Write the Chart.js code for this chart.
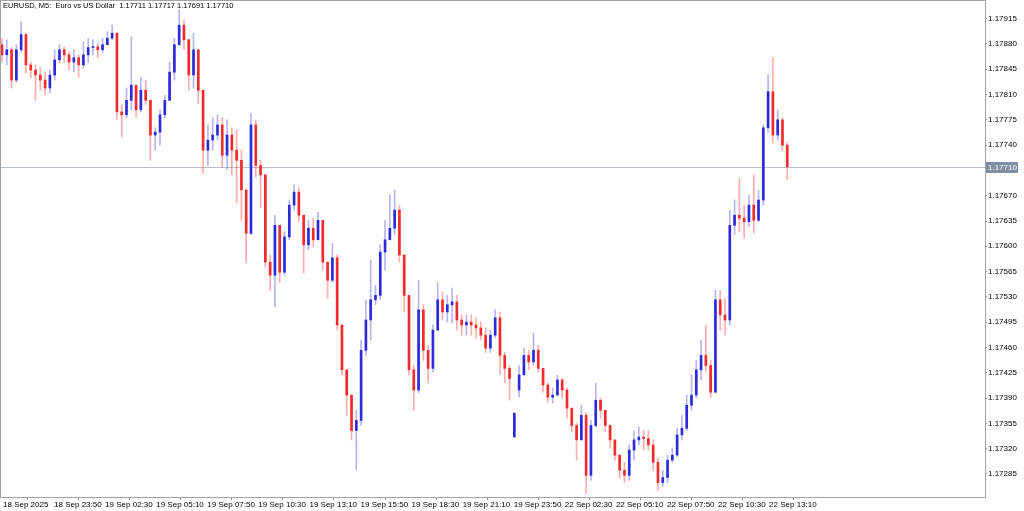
<!DOCTYPE html>
<html>
<head>
<meta charset="utf-8">
<script src="https://cdn.jsdelivr.net/npm/chart.js@4.4.1/dist/chart.umd.min.js"></script>
<style>
  html, body { margin: 0; padding: 0; background: #fff; }
  #chart { display: block; }
</style>
</head>
<body>
<canvas id="chart" width="1024" height="511"></canvas>
<script>
// Header / last bar
const symbolTitle = 'EURUSD, M5:  Euro vs US Dollar';
const lastBar = ['1.17711', '1.17717', '1.17691', '1.17710'];
const bidPrice = 1.17710;

// each candle here groups 3 M5 bars, a time label every 32 M5 bars
const barsPerCandle = 3;
const barsPerLabel = 32;

const timeLabels = [
    '18 Sep 2025', '18 Sep 23:50', '19 Sep 02:30', '19 Sep 05:10', '19 Sep 07:50', '19 Sep 10:30',
    '19 Sep 13:10', '19 Sep 15:50', '19 Sep 18:30', '19 Sep 21:10', '19 Sep 23:50', '22 Sep 02:30',
    '22 Sep 05:10', '22 Sep 07:50', '22 Sep 10:30', '22 Sep 13:10'
];

const priceTicks = [
    1.17915, 1.17880, 1.17845, 1.17810, 1.17775, 1.17740, 1.17705, 1.17670, 1.17635, 1.17600,
    1.17565, 1.17530, 1.17495, 1.17460, 1.17425, 1.17390, 1.17355, 1.17320, 1.17285
];

const opens = [
    1.17879, 1.17865, 1.17872, 1.17830, 1.17872, 1.17893, 1.17851, 1.17844, 1.17837, 1.17830,
    1.17819, 1.17837, 1.17858, 1.17872, 1.17865, 1.17855, 1.17861, 1.17851, 1.17865, 1.17875,
    1.17876, 1.17872, 1.17879, 1.17888, 1.17895, 1.17786, 1.17782, 1.17802, 1.17823, 1.17789,
    1.17816, 1.17802, 1.17754, 1.17758, 1.17782, 1.17802, 1.17841, 1.17879, 1.17906, 1.17886,
    1.17837, 1.17872, 1.17816, 1.17733, 1.17747, 1.17754, 1.17768, 1.17726, 1.17754, 1.17733,
    1.17719, 1.17678, 1.17618, 1.17768, 1.17712, 1.17699, 1.17578, 1.17560, 1.17629, 1.17564,
    1.17613, 1.17657, 1.17675, 1.17643, 1.17602, 1.17625, 1.17609, 1.17636, 1.17578, 1.17553,
    1.17584, 1.17491, 1.17429, 1.17394, 1.17345, 1.17359, 1.17456, 1.17498, 1.17526, 1.17532,
    1.17592, 1.17609, 1.17625, 1.17650, 1.17588, 1.17532, 1.17429, 1.17401, 1.17512, 1.17456,
    1.17431, 1.17484, 1.17526, 1.17509, 1.17519, 1.17523, 1.17498, 1.17491, 1.17495, 1.17491,
    1.17487, 1.17477, 1.17459, 1.17477, 1.17501, 1.17449, 1.17431, 1.17336, 1.17401, 1.17422,
    1.17449, 1.17440, 1.17456, 1.17431, 1.17408, 1.17391, 1.17394, 1.17415, 1.17401, 1.17376,
    1.17352, 1.17332, 1.17366, 1.17283, 1.17352, 1.17387, 1.17373, 1.17352, 1.17332, 1.17311,
    1.17290, 1.17283, 1.17318, 1.17332, 1.17336, 1.17334, 1.17325, 1.17301, 1.17273, 1.17280,
    1.17304, 1.17311, 1.17339, 1.17348, 1.17380, 1.17394, 1.17429, 1.17449, 1.17435, 1.17398,
    1.17526, 1.17505, 1.17498, 1.17629, 1.17643, 1.17639, 1.17634, 1.17657, 1.17636, 1.17664,
    1.17764, 1.17814, 1.17754, 1.17775, 1.17740
];

const highs = [
    1.17888, 1.17886, 1.17875, 1.17879, 1.17911, 1.17895, 1.17855, 1.17851, 1.17848, 1.17841,
    1.17844, 1.17872, 1.17879, 1.17876, 1.17869, 1.17872, 1.17865, 1.17883, 1.17888, 1.17886,
    1.17881, 1.17888, 1.17897, 1.17906, 1.17895, 1.17796, 1.17819, 1.17890, 1.17823, 1.17834,
    1.17830, 1.17802, 1.17764, 1.17789, 1.17809, 1.17855, 1.17888, 1.17927, 1.17913, 1.17886,
    1.17895, 1.17872, 1.17816, 1.17768, 1.17778, 1.17782, 1.17778, 1.17775, 1.17764, 1.17761,
    1.17733, 1.17678, 1.17784, 1.17775, 1.17719, 1.17699, 1.17588, 1.17643, 1.17629, 1.17620,
    1.17664, 1.17685, 1.17681, 1.17643, 1.17636, 1.17639, 1.17647, 1.17636, 1.17578, 1.17604,
    1.17588, 1.17491, 1.17429, 1.17394, 1.17373, 1.17470, 1.17526, 1.17581, 1.17546, 1.17602,
    1.17636, 1.17671, 1.17678, 1.17657, 1.17588, 1.17532, 1.17435, 1.17553, 1.17519, 1.17463,
    1.17491, 1.17550, 1.17537, 1.17532, 1.17542, 1.17532, 1.17505, 1.17505, 1.17505, 1.17501,
    1.17495, 1.17487, 1.17484, 1.17512, 1.17509, 1.17453, 1.17435, 1.17369, 1.17435, 1.17459,
    1.17456, 1.17480, 1.17463, 1.17431, 1.17411, 1.17404, 1.17422, 1.17417, 1.17404, 1.17376,
    1.17355, 1.17380, 1.17370, 1.17359, 1.17411, 1.17390, 1.17373, 1.17352, 1.17332, 1.17311,
    1.17301, 1.17325, 1.17345, 1.17350, 1.17345, 1.17345, 1.17332, 1.17307, 1.17290, 1.17311,
    1.17321, 1.17348, 1.17366, 1.17394, 1.17422, 1.17442, 1.17470, 1.17491, 1.17442, 1.17539,
    1.17539, 1.17528, 1.17650, 1.17664, 1.17694, 1.17657, 1.17671, 1.17699, 1.17678, 1.17768,
    1.17837, 1.17861, 1.17789, 1.17778, 1.17744
];

const lows = [
    1.17855, 1.17851, 1.17819, 1.17827, 1.17869, 1.17840, 1.17833, 1.17802, 1.17816, 1.17809,
    1.17812, 1.17830, 1.17854, 1.17854, 1.17844, 1.17841, 1.17834, 1.17847, 1.17854, 1.17865,
    1.17861, 1.17868, 1.17879, 1.17886, 1.17775, 1.17751, 1.17778, 1.17789, 1.17779, 1.17786,
    1.17796, 1.17719, 1.17733, 1.17740, 1.17778, 1.17802, 1.17830, 1.17879, 1.17872, 1.17816,
    1.17819, 1.17798, 1.17701, 1.17712, 1.17733, 1.17747, 1.17710, 1.17706, 1.17699, 1.17660,
    1.17636, 1.17577, 1.17616, 1.17696, 1.17654, 1.17571, 1.17539, 1.17516, 1.17550, 1.17560,
    1.17609, 1.17650, 1.17634, 1.17563, 1.17595, 1.17599, 1.17609, 1.17567, 1.17528, 1.17550,
    1.17484, 1.17422, 1.17366, 1.17332, 1.17290, 1.17352, 1.17449, 1.17470, 1.17519, 1.17526,
    1.17567, 1.17609, 1.17616, 1.17578, 1.17509, 1.17422, 1.17373, 1.17397, 1.17442, 1.17411,
    1.17426, 1.17484, 1.17498, 1.17495, 1.17494, 1.17484, 1.17477, 1.17477, 1.17477, 1.17473,
    1.17470, 1.17453, 1.17453, 1.17473, 1.17422, 1.17411, 1.17387, 1.17336, 1.17391, 1.17422,
    1.17429, 1.17435, 1.17426, 1.17398, 1.17384, 1.17383, 1.17394, 1.17390, 1.17362, 1.17343,
    1.17304, 1.17332, 1.17258, 1.17276, 1.17350, 1.17362, 1.17343, 1.17321, 1.17304, 1.17279,
    1.17273, 1.17276, 1.17304, 1.17325, 1.17318, 1.17318, 1.17290, 1.17262, 1.17268, 1.17273,
    1.17301, 1.17309, 1.17332, 1.17345, 1.17373, 1.17390, 1.17415, 1.17426, 1.17391, 1.17398,
    1.17484, 1.17477, 1.17491, 1.17616, 1.17620, 1.17611, 1.17627, 1.17618, 1.17634, 1.17657,
    1.17758, 1.17743, 1.17747, 1.17733, 1.17692
];

const closes = [
    1.17865, 1.17872, 1.17830, 1.17872, 1.17893, 1.17851, 1.17844, 1.17837, 1.17830, 1.17819,
    1.17837, 1.17858, 1.17872, 1.17865, 1.17855, 1.17861, 1.17851, 1.17865, 1.17875, 1.17876,
    1.17872, 1.17879, 1.17888, 1.17895, 1.17786, 1.17782, 1.17802, 1.17823, 1.17789, 1.17816,
    1.17802, 1.17754, 1.17758, 1.17782, 1.17802, 1.17841, 1.17879, 1.17906, 1.17886, 1.17837,
    1.17872, 1.17816, 1.17733, 1.17747, 1.17754, 1.17768, 1.17726, 1.17754, 1.17733, 1.17719,
    1.17678, 1.17618, 1.17768, 1.17712, 1.17699, 1.17578, 1.17560, 1.17629, 1.17564, 1.17613,
    1.17657, 1.17675, 1.17643, 1.17602, 1.17625, 1.17609, 1.17636, 1.17578, 1.17553, 1.17584,
    1.17491, 1.17429, 1.17394, 1.17345, 1.17359, 1.17456, 1.17498, 1.17526, 1.17532, 1.17592,
    1.17609, 1.17625, 1.17650, 1.17588, 1.17532, 1.17429, 1.17401, 1.17512, 1.17456, 1.17431,
    1.17484, 1.17526, 1.17509, 1.17519, 1.17523, 1.17498, 1.17491, 1.17495, 1.17491, 1.17487,
    1.17477, 1.17459, 1.17477, 1.17501, 1.17449, 1.17431, 1.17417, 1.17369, 1.17422, 1.17449,
    1.17440, 1.17456, 1.17431, 1.17408, 1.17391, 1.17394, 1.17415, 1.17401, 1.17376, 1.17352,
    1.17332, 1.17366, 1.17283, 1.17352, 1.17387, 1.17373, 1.17352, 1.17332, 1.17311, 1.17290,
    1.17283, 1.17318, 1.17332, 1.17336, 1.17334, 1.17325, 1.17301, 1.17273, 1.17280, 1.17304,
    1.17311, 1.17339, 1.17348, 1.17380, 1.17394, 1.17429, 1.17449, 1.17435, 1.17398, 1.17526,
    1.17505, 1.17498, 1.17629, 1.17643, 1.17639, 1.17634, 1.17657, 1.17636, 1.17664, 1.17764,
    1.17814, 1.17754, 1.17775, 1.17740, 1.17710
];

// Cores (alta azul, baixa vermelho)
const COLORS = {
    up: '#2a2ad8', down: '#f22a2a',
    wickUp: 'rgba(60, 60, 220, 0.38)', wickDown: 'rgba(255, 40, 40, 0.38)',
    frame: '#a4a4a4', priceLine: '#b8c0ca', priceBox: '#7e8ea4'
};
const FONT = { family: '"Liberation Sans", Arial, sans-serif', size: 8 };

const isUp = closes.map((c, i) => c >= opens[i]);

const wickData = highs.map((h, i) => ({ x: i * barsPerCandle, y: [lows[i], h] }));
const bodyData = closes.map((c, i) => ({ x: i * barsPerCandle, y: [opens[i], c] }));

// linha do preço atual + moldura + título
const mtOverlay = {
    id: 'mtOverlay',
    beforeDatasetsDraw(chart) {
        const { ctx, chartArea: a, scales } = chart;
        const y = Math.round(scales.y.getPixelForValue(bidPrice)) + 0.5;
        ctx.save();
        ctx.strokeStyle = COLORS.priceLine;
        ctx.lineWidth = 1;
        ctx.beginPath();
        ctx.moveTo(a.left, y);
        ctx.lineTo(a.right, y);
        ctx.stroke();
        ctx.restore();
    },
    afterDraw(chart) {
        const { ctx, chartArea: a, scales } = chart;
        const y = Math.round(scales.y.getPixelForValue(bidPrice));
        ctx.save();
        ctx.strokeStyle = COLORS.frame;
        ctx.lineWidth = 1;
        ctx.strokeRect(a.left - 0.5, a.top - 0.5, a.right - a.left + 1, a.bottom - a.top + 1);

        ctx.fillStyle = COLORS.priceBox;
        ctx.fillRect(a.right + 1, y - 5, 32, 11);
        ctx.font = `${FONT.size}px ${FONT.family}`;
        ctx.textBaseline = 'middle';
        ctx.fillStyle = '#ffffff';
        ctx.fillText(bidPrice.toFixed(5), a.right + 3, y + 0.5);

        ctx.font = `7.5px ${FONT.family}`;
        ctx.fillStyle = '#000000';
        ctx.fillText(symbolTitle + '  ' + lastBar.join(' '), 3, 5.5);
        ctx.restore();
    }
};

// tira o espaço extra que o Chart.js reserva para o primeiro/último rótulo
function fixBox(size) {
    return s => {
        if (s.isHorizontal()) s.height = size; else s.width = size;
        s.paddingTop = 0;
        s.paddingBottom = 0;
        s.paddingLeft = 0;
        s.paddingRight = 0;
    };
}

new Chart(document.getElementById('chart'), {
    type: 'bar',
    data: {
        datasets: [
            {
                data: wickData,
                backgroundColor: isUp.map(u => u ? COLORS.wickUp : COLORS.wickDown),
                barThickness: 1,
                grouped: false,
                order: 2
            },
            {
                data: bodyData,
                backgroundColor: isUp.map(u => u ? COLORS.up : COLORS.down),
                barThickness: 2,
                minBarLength: 1,
                grouped: false,
                order: 1
            }
        ]
    },
    options: {
        responsive: false,
        animation: false,
        devicePixelRatio: 1,
        layout: { padding: { left: 1, top: 1, right: 0, bottom: 0 } },
        plugins: { legend: { display: false }, tooltip: { enabled: false } },
        scales: {
            x: {
                type: 'linear',
                offset: false,
                min: -0.63,
                max: 615.9,
                afterFit: fixBox(14),
                afterBuildTicks: s => { s.ticks = timeLabels.map((_, k) => ({ value: k * barsPerLabel })); },
                border: { display: false },
                grid: { drawOnChartArea: false, drawTicks: true, tickLength: 3, color: '#8c8c8c' },
                ticks: {
                    autoSkip: false, maxRotation: 0, align: 'start', padding: 0, labelOffset: 1,
                    color: '#000', font: FONT,
                    callback: (v, i) => timeLabels[i]
                }
            },
            y: {
                position: 'right',
                min: 1.17253,
                max: 1.179395,
                afterFit: fixBox(39),
                afterBuildTicks: s => { s.ticks = priceTicks.map(v => ({ value: v })); },
                border: { display: false },
                grid: { drawOnChartArea: false, drawTicks: true, tickLength: 2, color: '#8c8c8c' },
                ticks: {
                    padding: 1, color: '#000', font: FONT,
                    callback: v => v.toFixed(5)
                }
            }
        }
    },
    plugins: [mtOverlay]
});
</script>
</body>
</html>
